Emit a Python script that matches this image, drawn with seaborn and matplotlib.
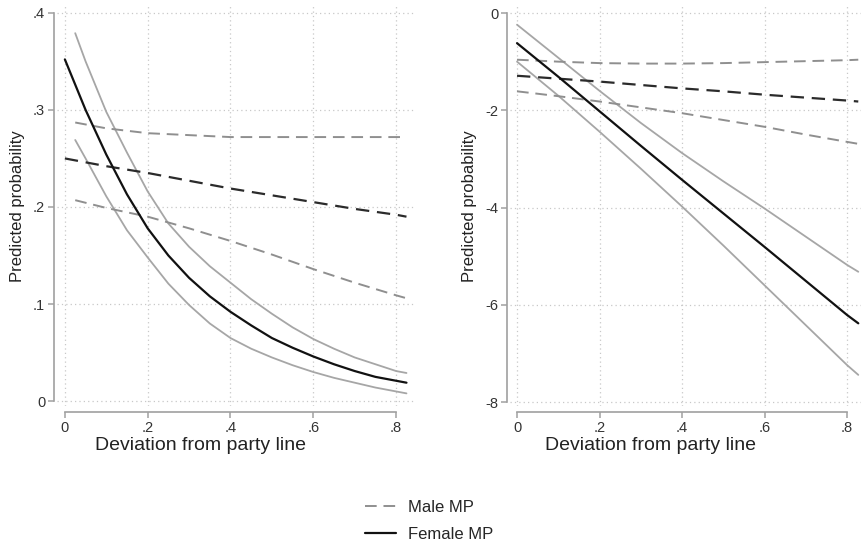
import matplotlib
matplotlib.use("Agg")
import matplotlib.pyplot as plt
import seaborn as sns
from matplotlib.lines import Line2D
from matplotlib.ticker import FuncFormatter

# left panel: predicted probabilities
x_mean_l = [0, .05, .1, .15, .2, .25, .3, .35, .4, .45, .5, .55, .6, .65, .7, .75, .8, .825]
female_mean_l = [.352, .300, .254, .213, .178, .150, .127, .108, .092, .078, .065, .055, .046, .038, .031, .025, .021, .019]
x_ci_l = [.025, .05, .1, .15, .2, .25, .3, .35, .4, .45, .5, .55, .6, .65, .7, .75, .8, .825]
female_hi_l = [.379, .350, .298, .256, .216, .183, .159, .139, .122, .105, .090, .076, .064, .054, .045, .038, .031, .029]
female_lo_l = [.269, .250, .211, .176, .148, .121, .099, .080, .065, .054, .045, .037, .030, .024, .019, .014, .010, .008]

x_male_l = [0, .1, .2, .3, .4, .5, .6, .7, .8, .825]
male_mean_l = [.250, .242, .235, .227, .219, .212, .205, .198, .192, .190]
x_male_ci_l = [.025, .1, .2, .3, .4, .5, .6, .7, .8, .825]
male_hi_l = [.287, .281, .276, .274, .272, .272, .272, .272, .272, .272]
male_lo_l = [.207, .199, .190, .178, .165, .151, .136, .122, .109, .106]

# right panel
x_r = [0, .1, .2, .3, .4, .5, .6, .7, .8, .827]
female_mean_r = [-0.62, -1.31, -2.02, -2.73, -3.43, -4.12, -4.81, -5.51, -6.21, -6.38]
female_hi_r = [-0.24, -0.92, -1.60, -2.26, -2.88, -3.46, -4.02, -4.60, -5.18, -5.32]
female_lo_r = [-1.00, -1.70, -2.44, -3.20, -3.98, -4.78, -5.60, -6.42, -7.24, -7.44]
male_mean_r = [-1.29, -1.35, -1.41, -1.48, -1.55, -1.61, -1.68, -1.74, -1.80, -1.82]
male_hi_r = [-0.96, -1.00, -1.03, -1.04, -1.04, -1.03, -1.01, -0.99, -0.97, -0.96]
male_lo_r = [-1.61, -1.71, -1.82, -1.94, -2.06, -2.20, -2.34, -2.50, -2.65, -2.69]

x_ticks = [0, .2, .4, .6, .8]
y_ticks_l = [0, .1, .2, .3, .4]
y_ticks_r = [0, -2, -4, -6, -8]

sns.set_style("white")
plt.rcParams["font.family"] = ["Liberation Sans", "DejaVu Sans"]

W, H = 862, 543
fig = plt.figure(figsize=(W / 100, H / 100), dpi=100)


def px_axes(x0, y0, x1, y1):
    return fig.add_axes([x0 / W, 1 - y1 / H, (x1 - x0) / W, (y1 - y0) / H])


ax_l = px_axes(57, 6, 416, 406)
ax_r = px_axes(510, 6, 862, 406)

ci_col = "#8f8f8f"
fci_col = "#a6a6a6"
mean_col = "#2b2b2b"
dash = (6, 3.5)


def draw(ax, xm, fm, xc, fh, fl, xmm, mm, xmc, mh, ml):
    sns.lineplot(x=xc, y=fh, ax=ax, color=fci_col, lw=1.3)
    sns.lineplot(x=xc, y=fl, ax=ax, color=fci_col, lw=1.3)
    sns.lineplot(x=xmc, y=mh, ax=ax, color=ci_col, lw=1.4)
    ax.lines[-1].set_dashes(dash)
    sns.lineplot(x=xmc, y=ml, ax=ax, color=ci_col, lw=1.4)
    ax.lines[-1].set_dashes(dash)
    sns.lineplot(x=xmm, y=mm, ax=ax, color=mean_col, lw=1.6)
    ax.lines[-1].set_dashes(dash)
    sns.lineplot(x=xm, y=fm, ax=ax, color="#111111", lw=1.6)


draw(ax_l, x_mean_l, female_mean_l, x_ci_l, female_hi_l, female_lo_l,
     x_male_l, male_mean_l, x_male_ci_l, male_hi_l, male_lo_l)
draw(ax_r, x_r, female_mean_r, x_r, female_hi_r, female_lo_r,
     x_r, male_mean_r, x_r, male_hi_r, male_lo_r)

ax_l.set_xlim(-0.019, 0.848)
ax_l.set_ylim(-0.005, 0.407)
ax_r.set_xlim(-0.017, 0.836)
ax_r.set_ylim(-8.08, 0.144)


def fmt_l(v, pos):
    s = "%g" % round(v, 2)
    return s.replace("0.", ".") if s != "0" else "0"


for ax, yt in [(ax_l, y_ticks_l), (ax_r, y_ticks_r)]:
    ax.set_xticks(x_ticks)
    ax.set_yticks(yt)
    ax.xaxis.set_major_formatter(FuncFormatter(fmt_l))
    if ax is ax_l:
        ax.yaxis.set_major_formatter(FuncFormatter(fmt_l))
    else:
        ax.yaxis.set_major_formatter(FuncFormatter(lambda v, p: "%d" % v))
    ax.grid(True, linestyle=(0, (1, 2.5)), color="#c8c8c8", lw=0.9)
    sns.despine(ax=ax)
    ax.spines["left"].set_position(("outward", 2.5))
    ax.spines["bottom"].set_position(("outward", 4.5))
    for s in ["left", "bottom"]:
        ax.spines[s].set_color("#a0a0a0")
        ax.spines[s].set_linewidth(1.2)
    ax.spines["left"].set_bounds(min(yt), max(yt))
    ax.spines["bottom"].set_bounds(0, 0.8)
    ax.tick_params(axis="both", which="both", length=4, width=1.1, color="#a0a0a0",
                   labelsize=10.5, labelcolor="#333333", pad=2, left=True, bottom=True)
    ax.set_xlabel("Deviation from party line", fontsize=14, color="#222222")
    ax.xaxis.set_label_coords(0.40, -0.077)
    ax.set_ylabel("Predicted probability", fontsize=12, color="#222222", labelpad=6)

handles = [Line2D([], [], color=ci_col, lw=1.4, dashes=dash),
           Line2D([], [], color="#111111", lw=1.6)]
fig.legend(handles, ["Male MP", "Female MP"], loc="center", bbox_to_anchor=(429 / W, 1 - 521 / H),
           frameon=False, fontsize=12, handlelength=1.9, handletextpad=0.7, labelspacing=0.75)

fig.savefig("out.png", dpi=100)
